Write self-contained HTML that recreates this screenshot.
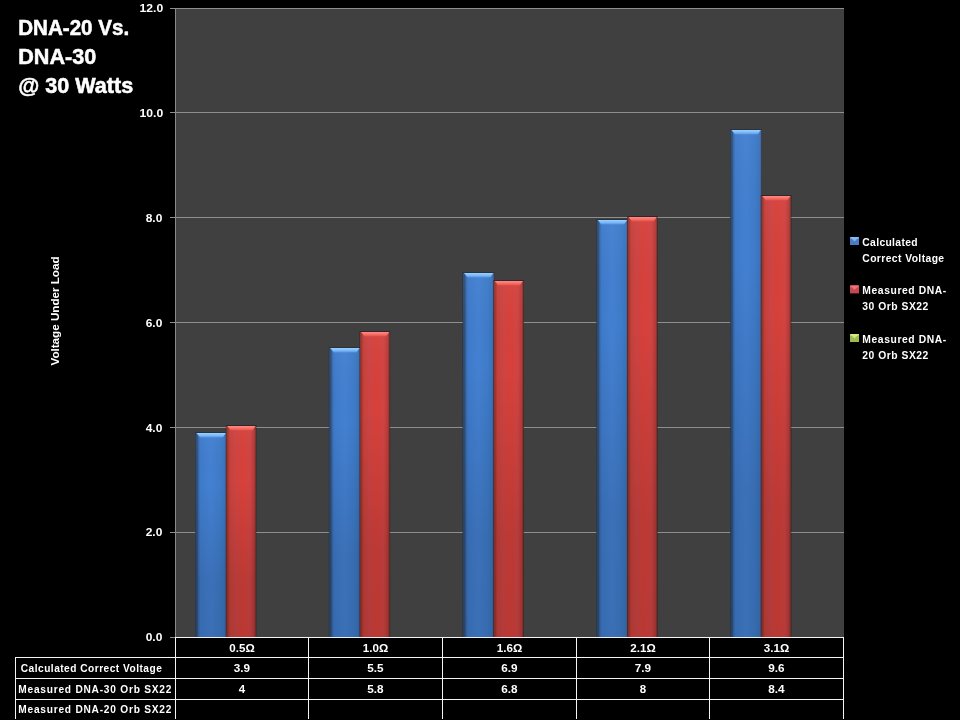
<!DOCTYPE html><html><head><meta charset="utf-8"><style>html,body{margin:0;padding:0;background:#000;width:960px;height:720px;overflow:hidden}svg{display:block;will-change:transform}</style></head><body>
<svg width="960" height="720" viewBox="0 0 960 720">
<defs>
<linearGradient id="bh" x1="0" y1="0" x2="1" y2="0">
<stop offset="0" stop-color="#2c4a70"/><stop offset="0.06" stop-color="#30507c"/><stop offset="0.1" stop-color="#3a6aa8"/><stop offset="0.16" stop-color="#3e7acb"/><stop offset="0.35" stop-color="#417ece"/><stop offset="0.5" stop-color="#4480d2"/><stop offset="0.8" stop-color="#3e7bc8"/><stop offset="0.94" stop-color="#3a74bc"/><stop offset="1" stop-color="#4a5a8a"/>
</linearGradient>
<linearGradient id="rh" x1="0" y1="0" x2="1" y2="0">
<stop offset="0" stop-color="#8a3030"/><stop offset="0.06" stop-color="#a03830"/><stop offset="0.12" stop-color="#c84038"/><stop offset="0.3" stop-color="#cc4444"/><stop offset="0.55" stop-color="#d84038"/><stop offset="0.8" stop-color="#d04444"/><stop offset="0.94" stop-color="#b83a36"/><stop offset="1" stop-color="#70302e"/>
</linearGradient>
<linearGradient id="shade" x1="0" y1="0" x2="0" y2="1">
<stop offset="0" stop-color="#fff" stop-opacity="0.03"/><stop offset="0.25" stop-color="#000" stop-opacity="0"/><stop offset="0.72" stop-color="#000" stop-opacity="0.12"/><stop offset="1" stop-color="#000" stop-opacity="0.13"/>
</linearGradient>
<linearGradient id="bhi" x1="0" y1="0" x2="0" y2="1">
<stop offset="0" stop-color="#98d0ff"/><stop offset="0.5" stop-color="#80bcf8"/><stop offset="1" stop-color="#5594e0"/>
</linearGradient>
<linearGradient id="rhi" x1="0" y1="0" x2="0" y2="1">
<stop offset="0" stop-color="#ff8a88"/><stop offset="0.5" stop-color="#f87068"/><stop offset="1" stop-color="#e05048"/>
</linearGradient>
</defs>
<rect x="176" y="8" width="668" height="629" fill="#404040"/>
<g shape-rendering="crispEdges">
<rect x="170" y="8" width="674" height="1" fill="#8e8e8e"/>
<rect x="170" y="112" width="674" height="1" fill="#8e8e8e"/>
<rect x="170" y="217" width="674" height="1" fill="#8e8e8e"/>
<rect x="170" y="322" width="674" height="1" fill="#8e8e8e"/>
<rect x="170" y="427" width="674" height="1" fill="#8e8e8e"/>
<rect x="170" y="532" width="674" height="1" fill="#8e8e8e"/>
<rect x="175" y="8" width="1" height="629" fill="#8a8a8a"/>
<rect x="170" y="637" width="6" height="1" fill="#8a8a8a"/>
</g>
<rect x="195.00" y="432" width="31.80" height="205" fill="#1c2a3c" opacity="0.6"/><rect x="195.50" y="433" width="30.8" height="204" fill="url(#bh)"/><rect x="195.50" y="433" width="30.8" height="204" fill="url(#shade)"/><polygon points="196.50,433 225.80,433 222.80,437.5 200.00,437.5" fill="url(#bhi)"/>
<rect x="225.80" y="425" width="30.60" height="212" fill="#2a1414" opacity="0.6"/><rect x="226.30" y="426" width="29.6" height="211" fill="url(#rh)"/><rect x="226.30" y="426" width="29.6" height="211" fill="url(#shade)"/><polygon points="227.30,426 255.40,426 252.40,430.5 230.80,430.5" fill="url(#rhi)"/>
<rect x="328.75" y="347" width="31.80" height="290" fill="#1c2a3c" opacity="0.6"/><rect x="329.25" y="348" width="30.8" height="289" fill="url(#bh)"/><rect x="329.25" y="348" width="30.8" height="289" fill="url(#shade)"/><polygon points="330.25,348 359.55,348 356.55,352.5 333.75,352.5" fill="url(#bhi)"/>
<rect x="359.55" y="331" width="30.60" height="306" fill="#2a1414" opacity="0.6"/><rect x="360.05" y="332" width="29.6" height="305" fill="url(#rh)"/><rect x="360.05" y="332" width="29.6" height="305" fill="url(#shade)"/><polygon points="361.05,332 389.15,332 386.15,336.5 364.55,336.5" fill="url(#rhi)"/>
<rect x="462.50" y="272" width="31.80" height="365" fill="#1c2a3c" opacity="0.6"/><rect x="463.00" y="273" width="30.8" height="364" fill="url(#bh)"/><rect x="463.00" y="273" width="30.8" height="364" fill="url(#shade)"/><polygon points="464.00,273 493.30,273 490.30,277.5 467.50,277.5" fill="url(#bhi)"/>
<rect x="493.30" y="280" width="30.60" height="357" fill="#2a1414" opacity="0.6"/><rect x="493.80" y="281" width="29.6" height="356" fill="url(#rh)"/><rect x="493.80" y="281" width="29.6" height="356" fill="url(#shade)"/><polygon points="494.80,281 522.90,281 519.90,285.5 498.30,285.5" fill="url(#rhi)"/>
<rect x="596.25" y="219" width="31.80" height="418" fill="#1c2a3c" opacity="0.6"/><rect x="596.75" y="220" width="30.8" height="417" fill="url(#bh)"/><rect x="596.75" y="220" width="30.8" height="417" fill="url(#shade)"/><polygon points="597.75,220 627.05,220 624.05,224.5 601.25,224.5" fill="url(#bhi)"/>
<rect x="627.05" y="216" width="30.60" height="421" fill="#2a1414" opacity="0.6"/><rect x="627.55" y="217" width="29.6" height="420" fill="url(#rh)"/><rect x="627.55" y="217" width="29.6" height="420" fill="url(#shade)"/><polygon points="628.55,217 656.65,217 653.65,221.5 632.05,221.5" fill="url(#rhi)"/>
<rect x="730.00" y="129" width="31.80" height="508" fill="#1c2a3c" opacity="0.6"/><rect x="730.50" y="130" width="30.8" height="507" fill="url(#bh)"/><rect x="730.50" y="130" width="30.8" height="507" fill="url(#shade)"/><polygon points="731.50,130 760.80,130 757.80,134.5 735.00,134.5" fill="url(#bhi)"/>
<rect x="760.80" y="195" width="30.60" height="442" fill="#2a1414" opacity="0.6"/><rect x="761.30" y="196" width="29.6" height="441" fill="url(#rh)"/><rect x="761.30" y="196" width="29.6" height="441" fill="url(#shade)"/><polygon points="762.30,196 790.40,196 787.40,200.5 765.80,200.5" fill="url(#rhi)"/>
<g shape-rendering="crispEdges" fill="#f4f4f4">
<rect x="175" y="637" width="669" height="1"/>
<rect x="15" y="657" width="829" height="1"/>
<rect x="15" y="678" width="829" height="1"/>
<rect x="15" y="699" width="829" height="1"/>
<rect x="15" y="657" width="1" height="62"/>
<rect x="175" y="637" width="1" height="82"/>
<rect x="308" y="637" width="1" height="82"/>
<rect x="442" y="637" width="1" height="82"/>
<rect x="576" y="637" width="1" height="82"/>
<rect x="709" y="637" width="1" height="82"/>
<rect x="843" y="637" width="1" height="82"/>
</g>
<text x="163.2" y="12.28" font-family="Liberation Sans" font-weight="bold" fill="#fff" font-size="11.2" text-anchor="end" textLength="23.6" lengthAdjust="spacingAndGlyphs">12.0</text>
<text x="163.2" y="117.28" font-family="Liberation Sans" font-weight="bold" fill="#fff" font-size="11.2" text-anchor="end" textLength="23.6" lengthAdjust="spacingAndGlyphs">10.0</text>
<text x="162.3" y="222.28" font-family="Liberation Sans" font-weight="bold" fill="#fff" font-size="11.2" text-anchor="end" textLength="16.6" lengthAdjust="spacingAndGlyphs">8.0</text>
<text x="162.3" y="327.28" font-family="Liberation Sans" font-weight="bold" fill="#fff" font-size="11.2" text-anchor="end" textLength="16.6" lengthAdjust="spacingAndGlyphs">6.0</text>
<text x="162.3" y="432.28" font-family="Liberation Sans" font-weight="bold" fill="#fff" font-size="11.2" text-anchor="end" textLength="16.6" lengthAdjust="spacingAndGlyphs">4.0</text>
<text x="162.3" y="536.28" font-family="Liberation Sans" font-weight="bold" fill="#fff" font-size="11.2" text-anchor="end" textLength="16.6" lengthAdjust="spacingAndGlyphs">2.0</text>
<text x="162.3" y="641.28" font-family="Liberation Sans" font-weight="bold" fill="#fff" font-size="11.2" text-anchor="end" textLength="16.6" lengthAdjust="spacingAndGlyphs">0.0</text>
<text x="18.2" y="35.2" font-family="Liberation Sans" font-weight="bold" fill="#fff" stroke="#fff" stroke-width="0.55" font-size="21.6" textLength="111" lengthAdjust="spacingAndGlyphs">DNA-20 Vs.</text>
<text x="18.2" y="63.8" font-family="Liberation Sans" font-weight="bold" fill="#fff" stroke="#fff" stroke-width="0.55" font-size="21.6" textLength="78" lengthAdjust="spacingAndGlyphs">DNA-30</text>
<text x="18.2" y="92.6" font-family="Liberation Sans" font-weight="bold" fill="#fff" stroke="#fff" stroke-width="0.55" font-size="21.6" textLength="115" lengthAdjust="spacingAndGlyphs">@ 30 Watts</text>
<text transform="translate(58.7,365.5) rotate(-90)" font-family="Liberation Sans" font-weight="bold" fill="#fff" font-size="11.2" textLength="109" lengthAdjust="spacingAndGlyphs">Voltage Under Load</text>
<rect x="850" y="237" width="9" height="8" fill="#4a7cc4"/>
<polygon points="850,237 859,237 854.5,241.5" fill="#90c8ff" opacity="0.75"/>
<rect x="850" y="237" width="9" height="2" fill="#90c8ff" opacity="0.35"/>
<rect x="850" y="285.4" width="9" height="8" fill="#c44850"/>
<polygon points="850,285.4 859,285.4 854.5,289.9" fill="#ff7a88" opacity="0.75"/>
<rect x="850" y="285.4" width="9" height="2" fill="#ff7a88" opacity="0.35"/>
<rect x="850" y="334" width="9" height="8" fill="#9cbc50"/>
<polygon points="850,334 859,334 854.5,338.5" fill="#e0f488" opacity="0.75"/>
<rect x="850" y="334" width="9" height="2" fill="#e0f488" opacity="0.35"/>
<text transform="translate(862.30,245.90) scale(0.94,1)" font-family="Liberation Sans" font-weight="bold" fill="#fff"  font-size="11" text-anchor="start" textLength="58.83" lengthAdjust="spacing">Calculated</text>
<text transform="translate(862.30,262.00) scale(0.94,1)" font-family="Liberation Sans" font-weight="bold" fill="#fff"  font-size="11" text-anchor="start" textLength="87.02" lengthAdjust="spacing">Correct Voltage</text>
<text transform="translate(862.30,293.90) scale(0.94,1)" font-family="Liberation Sans" font-weight="bold" fill="#fff"  font-size="11" text-anchor="start" textLength="89.36" lengthAdjust="spacing">Measured DNA-</text>
<text transform="translate(862.30,310.00) scale(0.94,1)" font-family="Liberation Sans" font-weight="bold" fill="#fff"  font-size="11" text-anchor="start" textLength="70.21" lengthAdjust="spacing">30 Orb SX22</text>
<text transform="translate(862.30,342.50) scale(0.94,1)" font-family="Liberation Sans" font-weight="bold" fill="#fff"  font-size="11" text-anchor="start" textLength="89.36" lengthAdjust="spacing">Measured DNA-</text>
<text transform="translate(862.30,358.60) scale(0.94,1)" font-family="Liberation Sans" font-weight="bold" fill="#fff"  font-size="11" text-anchor="start" textLength="70.21" lengthAdjust="spacing">20 Orb SX22</text>
<text x="242.00" y="651.9" font-family="Liberation Sans" font-weight="bold" fill="#fff" font-size="10.8" text-anchor="middle" textLength="25.4" lengthAdjust="spacingAndGlyphs">0.5Ω</text>
<text x="242.00" y="671.9" font-family="Liberation Sans" font-weight="bold" fill="#fff" font-size="10.8" text-anchor="middle" textLength="16.3" lengthAdjust="spacingAndGlyphs">3.9</text>
<text x="242.00" y="692.7" font-family="Liberation Sans" font-weight="bold" fill="#fff" font-size="10.8" text-anchor="middle" textLength="6.4" lengthAdjust="spacingAndGlyphs">4</text>
<text x="375.50" y="651.9" font-family="Liberation Sans" font-weight="bold" fill="#fff" font-size="10.8" text-anchor="middle" textLength="25.4" lengthAdjust="spacingAndGlyphs">1.0Ω</text>
<text x="375.50" y="671.9" font-family="Liberation Sans" font-weight="bold" fill="#fff" font-size="10.8" text-anchor="middle" textLength="16.3" lengthAdjust="spacingAndGlyphs">5.5</text>
<text x="375.50" y="692.7" font-family="Liberation Sans" font-weight="bold" fill="#fff" font-size="10.8" text-anchor="middle" textLength="16.3" lengthAdjust="spacingAndGlyphs">5.8</text>
<text x="509.50" y="651.9" font-family="Liberation Sans" font-weight="bold" fill="#fff" font-size="10.8" text-anchor="middle" textLength="25.4" lengthAdjust="spacingAndGlyphs">1.6Ω</text>
<text x="509.50" y="671.9" font-family="Liberation Sans" font-weight="bold" fill="#fff" font-size="10.8" text-anchor="middle" textLength="16.3" lengthAdjust="spacingAndGlyphs">6.9</text>
<text x="509.50" y="692.7" font-family="Liberation Sans" font-weight="bold" fill="#fff" font-size="10.8" text-anchor="middle" textLength="16.3" lengthAdjust="spacingAndGlyphs">6.8</text>
<text x="643.00" y="651.9" font-family="Liberation Sans" font-weight="bold" fill="#fff" font-size="10.8" text-anchor="middle" textLength="25.4" lengthAdjust="spacingAndGlyphs">2.1Ω</text>
<text x="643.00" y="671.9" font-family="Liberation Sans" font-weight="bold" fill="#fff" font-size="10.8" text-anchor="middle" textLength="16.3" lengthAdjust="spacingAndGlyphs">7.9</text>
<text x="643.00" y="692.7" font-family="Liberation Sans" font-weight="bold" fill="#fff" font-size="10.8" text-anchor="middle" textLength="6.4" lengthAdjust="spacingAndGlyphs">8</text>
<text x="776.50" y="651.9" font-family="Liberation Sans" font-weight="bold" fill="#fff" font-size="10.8" text-anchor="middle" textLength="25.4" lengthAdjust="spacingAndGlyphs">3.1Ω</text>
<text x="776.50" y="671.9" font-family="Liberation Sans" font-weight="bold" fill="#fff" font-size="10.8" text-anchor="middle" textLength="16.3" lengthAdjust="spacingAndGlyphs">9.6</text>
<text x="776.50" y="692.7" font-family="Liberation Sans" font-weight="bold" fill="#fff" font-size="10.8" text-anchor="middle" textLength="16.3" lengthAdjust="spacingAndGlyphs">8.4</text>
<text transform="translate(20.80,671.90) scale(0.94,1)" font-family="Liberation Sans" font-weight="bold" fill="#fff"  font-size="10.8" text-anchor="start" textLength="150.00" lengthAdjust="spacing">Calculated Correct Voltage</text>
<text transform="translate(18.30,692.60) scale(0.94,1)" font-family="Liberation Sans" font-weight="bold" fill="#fff"  font-size="10.8" text-anchor="start" textLength="162.77" lengthAdjust="spacing">Measured DNA-30 Orb SX22</text>
<text transform="translate(18.30,712.60) scale(0.94,1)" font-family="Liberation Sans" font-weight="bold" fill="#fff"  font-size="10.8" text-anchor="start" textLength="162.77" lengthAdjust="spacing">Measured DNA-20 Orb SX22</text>
</svg></body></html>
